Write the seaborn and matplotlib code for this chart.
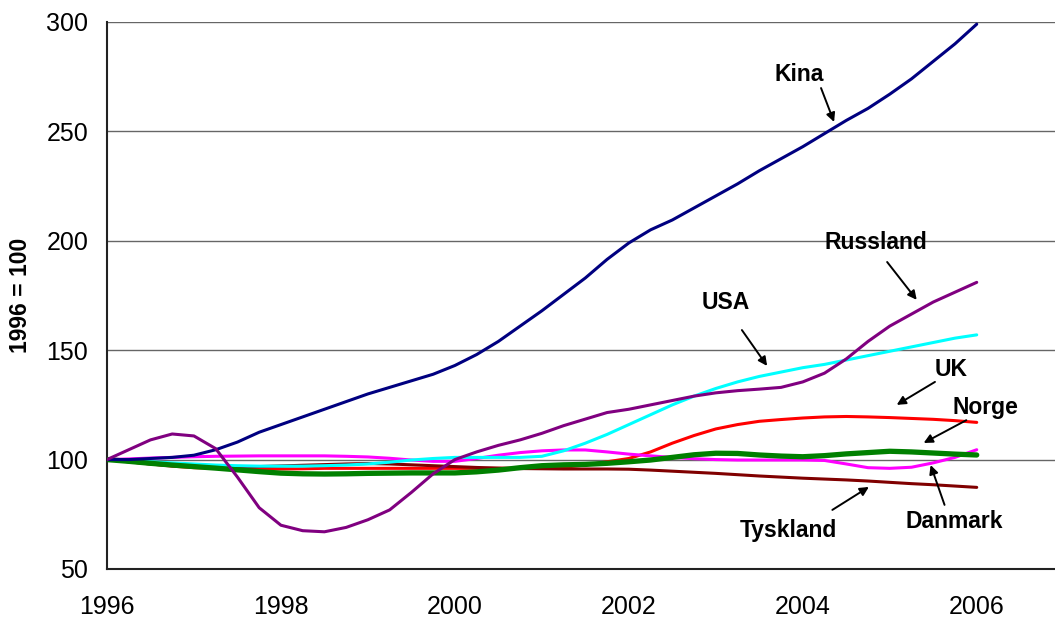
import numpy as np
import pandas as pd
import matplotlib
matplotlib.use("Agg")
import matplotlib.pyplot as plt
import seaborn as sns

# Quarterly index values, 1996 = 100
years = np.round(np.arange(1996, 2006.001, 0.25), 2)

kina = [100, 100, 100.5, 101, 102, 104.5, 108, 112.5, 116, 119.5, 123, 126.5,
        130, 133, 136, 139, 143, 148, 154, 161, 168, 175.5, 183, 191.5,
        199, 205, 209.5, 215, 220.5, 226, 232, 237.5, 243, 249, 255, 260.5,
        267, 274, 282, 290, 299]
russland = [100, 104.5, 109, 111.7, 110.8, 105, 92, 78, 70, 67.5, 67, 69,
            72.5, 77, 85, 93.5, 100, 103.5, 106.5, 109, 112, 115.5, 118.5, 121.5,
            123, 125, 127, 129, 130.5, 131.5, 132.2, 133, 135.5, 139.5, 146, 154,
            161, 166.5, 172, 176.5, 181]
usa = [100, 99.5, 99, 98.5, 98, 97.5, 97.2, 97, 97, 97, 97.2, 97.5,
       98, 98.8, 99.8, 100.5, 101, 101, 101, 101, 101.5, 104, 107.5, 111.5,
       116, 120.5, 125, 129, 132.5, 135.5, 138, 140, 142, 143.5, 145.5, 147.5,
       149.5, 151.5, 153.5, 155.5, 157]
uk = [100, 99, 98, 97, 96.3, 96, 95.8, 95.7, 95.7, 95.8, 96, 96,
      96, 96, 96, 96, 96, 96, 96, 96, 96, 96.5, 97.5, 99,
      100.5, 103.5, 107.5, 111, 114, 116, 117.5, 118.3, 119, 119.5, 119.7, 119.5,
      119.2, 118.8, 118.4, 117.8, 117]
norge = [100, 99.2, 98.3, 97.5, 96.8, 96.1, 95.3, 94.5, 93.8, 93.5, 93.4, 93.5,
         93.7, 93.8, 93.9, 93.9, 93.9, 94.4, 95.2, 96.3, 97.2, 97.6, 97.8, 98.3,
         99, 99.8, 101, 102.2, 102.9, 102.8, 102.1, 101.6, 101.3, 101.8, 102.6, 103.2,
         103.8, 103.5, 103, 102.5, 102.1]
danmark = [100, 100.3, 100.7, 101, 101.3, 101.5, 101.6, 101.7, 101.7, 101.7, 101.7, 101.5,
           101.2, 100.6, 99.8, 99.2, 99.2, 100.5, 102, 103.2, 104, 104.4, 104.4, 103.5,
           102.5, 101.7, 101, 100.4, 100, 99.8, 99.8, 99.8, 99.8, 99.6, 98, 96.3,
           96, 96.5, 98.5, 101, 104.5]
tyskland = [100, 99, 98, 97.2, 96.7, 96.4, 96.5, 96.8, 97.1, 97.4, 97.7, 98,
            98.2, 98, 97.6, 97.2, 96.8, 96.4, 96.1, 95.9, 95.8, 95.7, 95.7, 95.7,
            95.6, 95.2, 94.7, 94.2, 93.7, 93.1, 92.5, 92, 91.5, 91.1, 90.7, 90.2,
            89.6, 89, 88.5, 87.9, 87.3]

y_ticks = [50, 100, 150, 200, 250, 300]
x_ticks = [1996, 1998, 2000, 2002, 2004, 2006]

series = {
    "UK": (uk, "#FF0000", 2.2),
    "Tyskland": (tyskland, "#800000", 2.2),
    "Danmark": (danmark, "#FF00FF", 2.2),
    "USA": (usa, "#00FFFF", 2.2),
    "Norge": (norge, "#008000", 3.8),
    "Kina": (kina, "#000080", 2.2),
    "Russland": (russland, "#800080", 2.2),
}

df = pd.DataFrame({"year": years})
for name, (vals, _, _) in series.items():
    df[name] = vals

sns.set_style("white")
plt.rcParams["font.family"] = ["Liberation Sans", "DejaVu Sans"]
plt.rcParams["text.color"] = "black"
plt.rcParams["xtick.color"] = "black"
plt.rcParams["ytick.color"] = "black"
plt.rcParams["axes.labelcolor"] = "black"

fig = plt.figure(figsize=(10.55, 6.19), dpi=100)
ax = fig.add_axes([0.1014, 0.0808, 0.8986, 0.8837])

for name, (vals, color, lw) in series.items():
    sns.lineplot(data=df, x="year", y=name, color=color, linewidth=lw, ax=ax,
                 legend=False, zorder=3)

ax.set_xlim(1996, 2006.9)
ax.set_ylim(50, 300)
ax.set_xticks(x_ticks)
ax.set_yticks(y_ticks)
ax.set_xticklabels([str(t) for t in x_ticks], fontsize=18)
ax.set_yticklabels([str(t) for t in y_ticks], fontsize=18)
ax.tick_params(axis="x", direction="out", length=6, width=1.2, color="#333333", pad=13)
ax.tick_params(axis="y", direction="out", length=6.5, width=1.2, color="#333333", pad=7)

for v in y_ticks[1:]:
    ax.axhline(v, color="#666666", linewidth=1.0, zorder=1)

for side in ["top", "right"]:
    ax.spines[side].set_visible(False)
for side in ["left", "bottom"]:
    ax.spines[side].set_color("#222222")
    ax.spines[side].set_linewidth(1.5)

ax.set_xlabel("")
ax.set_ylabel("1996 = 100", fontsize=16.5, fontweight="bold", labelpad=10)

# Series labels with pointer arrows
labels = [
    ("Kina", (2003.96, 275.8), (2004.21, 269.8), (2004.36, 254.3)),
    ("Russland", (2004.84, 199.0), (2004.97, 190.3), (2005.31, 173.0)),
    ("USA", (2003.12, 171.6), (2003.30, 159.2), (2003.59, 142.8)),
    ("UK", (2005.70, 141.0), (2005.52, 135.5), (2005.08, 125.0)),
    ("Norge", (2006.10, 123.6), (2005.88, 118.0), (2005.39, 107.6)),
    ("Tyskland", (2003.84, 67.8), (2004.34, 77.0), (2004.76, 87.5)),
    ("Danmark", (2005.74, 71.5), (2005.63, 79.3), (2005.47, 97.5)),
]
for text, pos, tail, head in labels:
    ax.text(pos[0], pos[1], text, fontsize=16.5, fontweight="bold",
            ha="center", va="center", zorder=5)
    ax.annotate("", xy=head, xytext=tail,
                arrowprops=dict(arrowstyle="-|>", color="black", lw=1.4,
                                mutation_scale=13, shrinkA=0, shrinkB=0),
                zorder=5)

fig.savefig("out.png", dpi=100)
